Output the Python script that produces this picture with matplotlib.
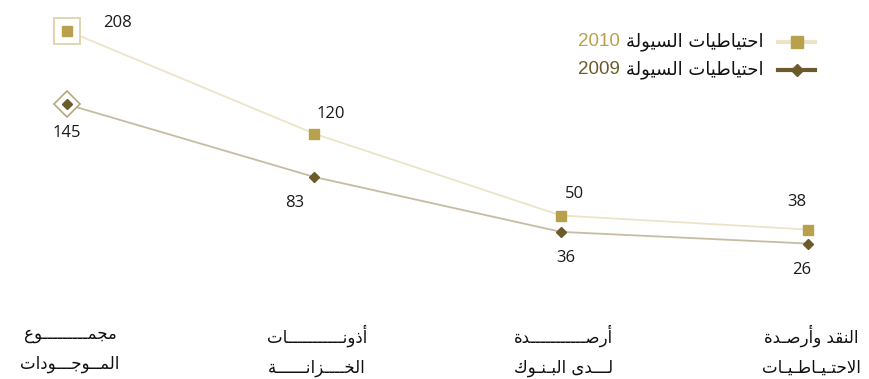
import matplotlib
matplotlib.use("Agg")
import matplotlib.pyplot as plt
from matplotlib.lines import Line2D

# Values for the two years, one per category
categories = [
    "مجمـــــــــوع\nالمــوجـــودات",
    "أذونـــــــــــات\nالخــــزانــــــة",
    "أرصـــــــــــدة\nلـــدى البـنـوك",
    "النقد وأرصـدة\nالاحتـيـاطـيـات",
]
values_2010 = [208, 120, 50, 38]
values_2009 = [145, 83, 36, 26]
series_name = "احتياطيات السيولة"
years = ["2010", "2009"]

GOLD = "#b8a14d"
OLIVE = "#6b5b2b"
LINE_2010 = "#ece3c8"
LINE_2009 = "#c7bba3"

# Presentation forms for the letters we need: (isolated code, joins to the left)
FORMS = {
    "ا": (0xFE8D, False), "أ": (0xFE83, False), "ب": (0xFE8F, True),
    "ة": (0xFE93, False), "ت": (0xFE95, True), "ج": (0xFE9D, True),
    "ح": (0xFEA1, True), "خ": (0xFEA5, True), "د": (0xFEA9, False),
    "ذ": (0xFEAB, False), "ر": (0xFEAD, False), "ز": (0xFEAF, False),
    "س": (0xFEB1, True), "ص": (0xFEB9, True), "ط": (0xFEC1, True),
    "ع": (0xFEC9, True), "ق": (0xFED5, True), "ك": (0xFED9, True),
    "ل": (0xFEDD, True), "م": (0xFEE1, True), "ن": (0xFEE5, True),
    "و": (0xFEED, False), "ى": (0xFEEF, False), "ي": (0xFEF1, True),
}
TATWEEL = "ـ"
LAM_ALEF = {"ا": 0xFEFB, "أ": 0xFEF7}


def joins_left(ch):
    return ch == TATWEEL or (ch in FORMS and FORMS[ch][1])


def is_letter(ch):
    return ch == TATWEEL or ch in FORMS


def shape_line(line):
    """Join the letters of one line and put them in visual (LTR) order."""
    out = []
    i = 0
    while i < len(line):
        c = line[i]
        prev = line[i - 1] if i > 0 else ""
        linked = joins_left(prev)
        if c == "ل" and i + 1 < len(line) and line[i + 1] in LAM_ALEF:
            out.append(chr(LAM_ALEF[line[i + 1]] + (1 if linked else 0)))
            i += 2
            continue
        if c in FORMS:
            base, dual = FORMS[c]
            nxt = line[i + 1] if i + 1 < len(line) else ""
            to_next = dual and is_letter(nxt)
            if linked and to_next:
                code = base + 3
            elif to_next:
                code = base + 2
            elif linked:
                code = base + 1
            else:
                code = base
            out.append(chr(code))
        else:
            out.append(c)
        i += 1
    return "".join(reversed(out))


def shape(text):
    return "\n".join(shape_line(l) for l in text.split("\n"))


W, H = 869, 379
fig = plt.figure(figsize=(W / 100, H / 100), dpi=100)
ax = fig.add_axes([0, 1 - 290 / H, 1, 290 / H])
ax.set_xlim(-67 / 247, (W - 67) / 247)
ax.set_ylim((274 - 290) / 1.17, 274 / 1.17)
for s in ax.spines.values():
    s.set_visible(False)
ax.set_yticks([])

x = range(len(values_2010))
ax.plot(x, values_2010, color=LINE_2010, lw=1.3, zorder=2)
ax.plot(x, values_2009, color=LINE_2009, lw=1.3, zorder=2)

# outlined frames around the first point of each series
ax.plot(0, values_2010[0], marker="s", ms=18.5, mfc="white", mec="#e0d5ae", mew=1.4, zorder=3)
ax.plot(0, values_2009[0], marker="D", ms=13, mfc="white", mec="#b5a77e", mew=1.2, zorder=3)

ax.plot(x, values_2010, ls="none", marker="s", ms=7.8, color=GOLD, zorder=4)
ax.plot(x, values_2009, ls="none", marker="D", ms=5.2, color=OLIVE, zorder=4)

# value labels (offsets in pixels)
off_2010 = [(51, 8), (17, 20), (14, 22), (-11, 28)]
off_2009 = [(0, -29), (-19, -26), (5, -26), (-6, -26)]
for i, v in enumerate(values_2010):
    ax.annotate(str(v), (i, v), xytext=off_2010[i], textcoords="offset pixels",
                ha="center", va="center", fontsize=12, family="Open Sans", color="#1a1a1a")
for i, v in enumerate(values_2009):
    ax.annotate(str(v), (i, v), xytext=off_2009[i], textcoords="offset pixels",
                ha="center", va="center", fontsize=12, family="Open Sans", color="#1a1a1a")

ax.set_xticks([i + 0.012 for i in x], [shape(c) for c in categories], fontsize=12,
              family="DejaVu Sans", linespacing=1.85, color="#111111")
ax.tick_params(axis="x", length=0, pad=25)

# legend: marker on the right, text to its left
legend_rows = [
    (42, LINE_2010, "s", GOLD, 8.5, years[0], GOLD),
    (70, OLIVE, "D", OLIVE, 6.5, years[1], OLIVE),
]
for py, lc, mk, mc, ms, year, yc in legend_rows:
    fy = 1 - py / H
    fig.add_artist(Line2D([778 / W, 815 / W], [fy, fy], color=lc, lw=3,
                          transform=fig.transFigure))
    fig.add_artist(Line2D([797 / W], [fy], marker=mk, ms=ms, color=mc, ls="none",
                          transform=fig.transFigure))
    t = fig.text(763 / W, fy, shape(series_name), ha="right", va="center",
                 fontsize=13, family="DejaVu Sans", color="#111111")
    ax.annotate(year, xy=(0, 0.5), xycoords=t, xytext=(-6, 0), textcoords="offset pixels",
                ha="right", va="center", fontsize=13.5, family="Liberation Sans", color=yc)

fig.savefig("out.png", dpi=100)
